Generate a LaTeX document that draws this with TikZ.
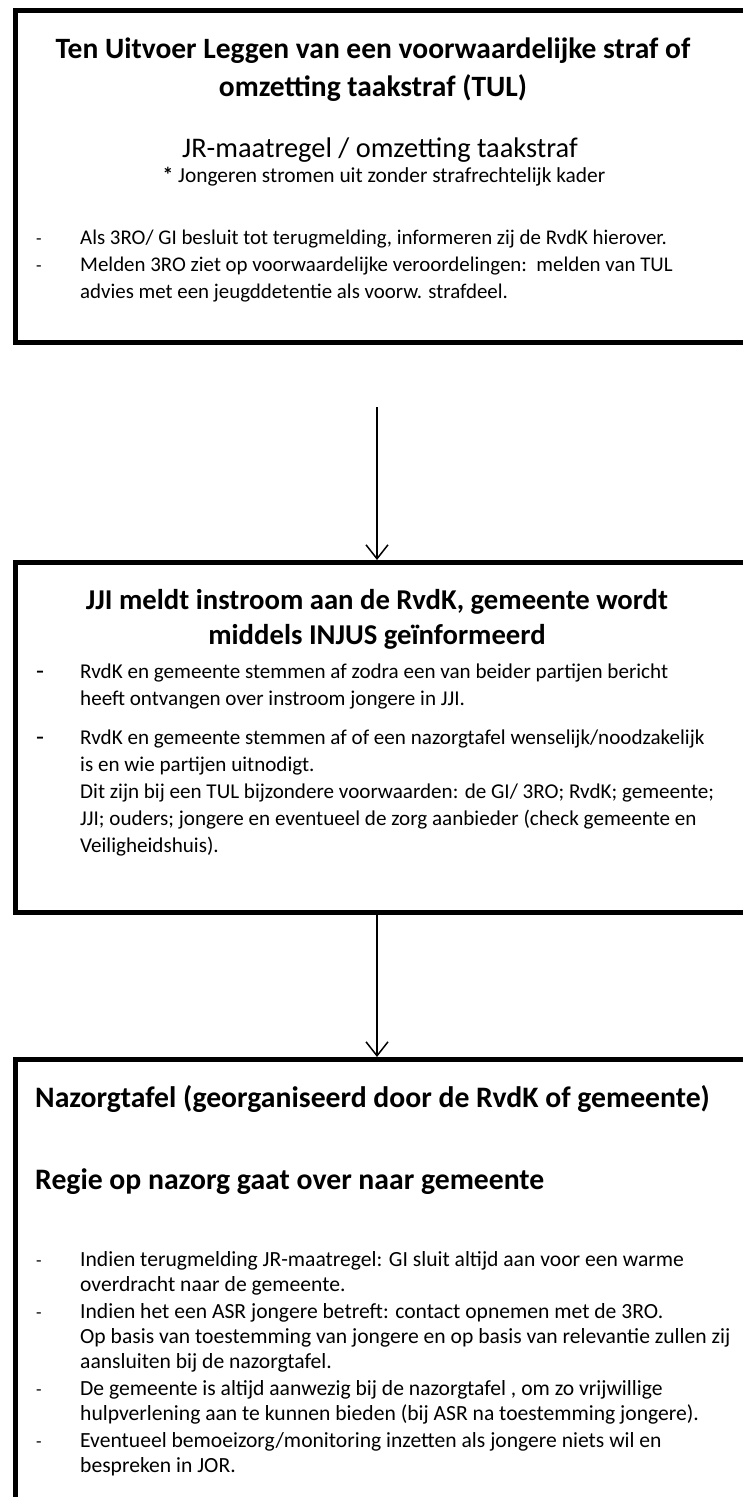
\documentclass[tikz,border=0pt]{standalone}
\usepackage{fontspec}
\setmainfont{Carlito}
\usetikzlibrary{arrows.meta,positioning}

\tikzset{
  kader/.style={draw=black, line width=5pt, inner sep=0pt, anchor=north west},
  kop/.style={font=\bfseries\fontsize{28.7}{35}\selectfont, align=center, anchor=base, inner sep=0pt},
  kopl/.style={font=\bfseries\fontsize{29.7}{36}\selectfont, anchor=base west, inner sep=0pt},
  regel/.style={font=\fontsize{21.1}{27}\selectfont, align=left, anchor=base west, inner sep=0pt},
  regelk/.style={font=\fontsize{21.6}{25}\selectfont, align=left, anchor=base west, inner sep=0pt},
  streep/.style={font=\fontsize{18}{27}\selectfont, anchor=base west, inner sep=0pt},
  pijl/.style={line width=1.5pt, -{Straight Barb[length=14pt,width=22pt,line width=1.5pt]}}
}

\begin{document}
\begin{tikzpicture}[x=1pt,y=-1pt]
  \useasboundingbox (0,0) rectangle (743,1497);

  % kaders
  \node[kader, minimum width=735pt, minimum height=332pt] (tul) at (13,8) {};
  \node[kader, minimum width=735pt, minimum height=350pt] (jji) at (13,560) {};
  \node[kader, minimum width=735pt, minimum height=453pt] (nazorg) at (13,1057) {};

  % TUL (base = laatste regel)
  \node[kop, font=\bfseries\fontsize{29.5}{38}\selectfont] (tulkop) at (373,96) {Ten Uitvoer Leggen van een voorwaardelijke straf of\\omzetting taakstraf (TUL)};
  \node[font=\fontsize{28.4}{32}\selectfont, anchor=base, inner sep=0pt] (jr) at (380,157) {JR-maatregel / omzetting taakstraf};
  \node[font=\fontsize{21.4}{24}\selectfont, anchor=base, inner sep=0pt] (ster) at (384,182) {\textbf{*} Jongeren stromen uit zonder strafrechtelijk kader};
  \node[streep] at (36,244) {-};
  \node[regel, font=\fontsize{20.9}{27}\selectfont] (tul1) at (80,244) {Als 3RO/ GI besluit tot terugmelding, informeren zij de RvdK hierover.};
  \node[streep] at (36,271) {-};
  \node[regel, font=\fontsize{20.9}{27}\selectfont] (tul2) at (80,298) {Melden 3RO ziet op voorwaardelijke veroordelingen:\ \ melden van TUL\\advies met een jeugddetentie als voorw. strafdeel.};

  % JJI
  \node[kop] (jjikop) at (377,644) {JJI meldt instroom aan de RvdK, gemeente wordt\\middels INJUS geïnformeerd};
  \node[streep, font=\fontsize{26}{27}\selectfont] at (36,679) {-};
  \node[regel] (jji1) at (80,705) {RvdK en gemeente stemmen af zodra een van beider partijen bericht\\heeft ontvangen over instroom jongere in JJI.};
  \node[streep, font=\fontsize{26}{27}\selectfont] at (36,745) {-};
  \node[regel] (jji2) at (80,852) {RvdK en gemeente stemmen af of een nazorgtafel wenselijk/noodzakelijk\\is en wie partijen uitnodigt.\\Dit zijn bij een TUL bijzondere voorwaarden: de GI/ 3RO; RvdK; gemeente;\\JJI; ouders; jongere en eventueel de zorg aanbieder (check gemeente en\\Veiligheidshuis).};

  % Nazorgtafel
  \node[kopl] (nazkop) at (35,1107) {Nazorgtafel (georganiseerd door de RvdK of gemeente)};
  \node[kopl] (regie) at (35,1189) {Regie op nazorg gaat over naar gemeente};
  \node[streep] at (36,1266) {-};
  \node[regelk] (naz1) at (80,1291) {Indien terugmelding JR-maatregel: GI sluit altijd aan voor een warme\\overdracht naar de gemeente.};
  \node[streep] at (36,1318) {-};
  \node[regelk] (naz2) at (80,1368) {Indien het een ASR jongere betreft: contact opnemen met de 3RO.\\Op basis van toestemming van jongere en op basis van relevantie zullen zij\\aansluiten bij de nazorgtafel.};
  \node[streep] at (36,1395) {-};
  \node[regelk] (naz3) at (80,1420) {De gemeente is altijd aanwezig bij de nazorgtafel , om zo vrijwillige\\hulpverlening aan te kunnen bieden (bij ASR na toestemming jongere).};
  \node[streep] at (36,1447) {-};
  \node[regelk] (naz4) at (80,1472) {Eventueel bemoeizorg/monitoring inzetten als jongere niets wil en\\bespreken in JOR.};

  % pijlen
  \coordinate (van1) at (377,407);
  \coordinate (van2) at (377,912);
  \draw[pijl] (van1) -- (van1 |- jji.north);
  \draw[pijl] (van2) -- (van2 |- nazorg.north);
\end{tikzpicture}
\end{document}
